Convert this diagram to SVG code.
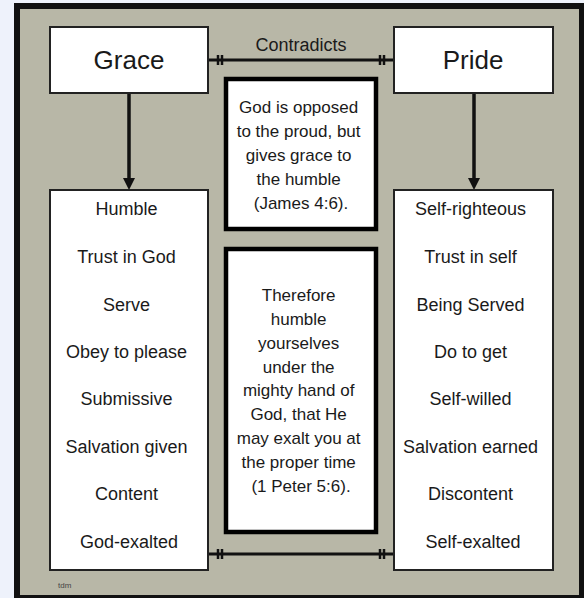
<svg xmlns="http://www.w3.org/2000/svg" width="584" height="598" viewBox="0 0 584 598">
<defs>
<style>
.t{font-family:"Liberation Sans",Arial,Helvetica,sans-serif;fill:#1a1a1a;text-anchor:middle}
.box{fill:#fff;stroke:#222;stroke-width:2}
.quote{fill:#fff;stroke:#000;stroke-width:4.5}
.conn{stroke:#111;stroke-width:3;fill:none}
.arrow{stroke:#111;stroke-width:3.5;fill:none}
.bars{stroke:#111;stroke-width:2.5;fill:none}
</style>
</defs>
<rect width="584" height="598" fill="#eef2fb"/>
<rect x="17" y="6" width="565" height="592" fill="#b8b7a7" stroke="#111" stroke-width="6"/>

<g id="connectors">
<line class="conn" x1="208" y1="60" x2="394" y2="60"/>
<path class="bars" d="M218,55V65M222,55V65M380,55V65M384,55V65"/>
<line class="conn" x1="208" y1="554" x2="394" y2="554"/>
<path class="bars" d="M218,549V559M222,549V559M380,549V559M384,549V559"/>
<line class="arrow" x1="129" y1="93" x2="129" y2="180"/>
<path d="M123,178L135,178L129,190Z" fill="#111"/>
<line class="arrow" x1="474" y1="93" x2="474" y2="180"/>
<path d="M468,178L480,178L474,190Z" fill="#111"/>
<text class="t" x="301" y="51" font-size="18">Contradicts</text>
</g>

<g id="grace">
<rect class="box" x="50" y="27" width="158" height="66"/>
<text class="t" x="129" y="69" font-size="26">Grace</text>
</g>

<g id="pride">
<rect class="box" x="394" y="27" width="159" height="66"/>
<text class="t" x="473" y="69" font-size="26">Pride</text>
</g>

<g id="quote1">
<rect class="quote" x="226" y="79" width="150" height="150"/>
<text class="t" font-size="17">
<tspan x="301" y="113">God is opposed</tspan>
<tspan x="301" y="137">to the proud, but</tspan>
<tspan x="301" y="161">gives grace to</tspan>
<tspan x="301" y="185">the humble</tspan>
<tspan x="301" y="209">(James 4:6).</tspan>
</text>
</g>

<g id="quote2">
<rect class="quote" x="226" y="249" width="150" height="283"/>
<text class="t" font-size="17">
<tspan x="301" y="301">Therefore</tspan>
<tspan x="301" y="325">humble</tspan>
<tspan x="301" y="349">yourselves</tspan>
<tspan x="301" y="373">under the</tspan>
<tspan x="301" y="396">mighty hand of</tspan>
<tspan x="301" y="420">God, that He</tspan>
<tspan x="301" y="444">may exalt you at</tspan>
<tspan x="301" y="468">the proper time</tspan>
<tspan x="301" y="492">(1 Peter 5:6).</tspan>
</text>
</g>

<g id="grace-list">
<rect class="box" x="50" y="190" width="158" height="380"/>
<text class="t" font-size="18">
<tspan x="129" y="215">Humble</tspan>
<tspan x="129" y="263">Trust in God</tspan>
<tspan x="129" y="311">Serve</tspan>
<tspan x="129" y="358">Obey to please</tspan>
<tspan x="129" y="405">Submissive</tspan>
<tspan x="129" y="453">Salvation given</tspan>
<tspan x="129" y="500">Content</tspan>
<tspan x="129" y="548">God-exalted</tspan>
</text>
</g>

<g id="pride-list">
<rect class="box" x="394" y="190" width="159" height="380"/>
<text class="t" font-size="18">
<tspan x="473" y="215">Self-righteous</tspan>
<tspan x="473" y="263">Trust in self</tspan>
<tspan x="473" y="311">Being Served</tspan>
<tspan x="473" y="358">Do to get</tspan>
<tspan x="473" y="405">Self-willed</tspan>
<tspan x="473" y="453">Salvation earned</tspan>
<tspan x="473" y="500">Discontent</tspan>
<tspan x="473" y="548">Self-exalted</tspan>
</text>
</g>

<text x="58" y="588" font-family="Liberation Sans,Arial,sans-serif" font-size="8" fill="#444">tdm</text>
</svg>
